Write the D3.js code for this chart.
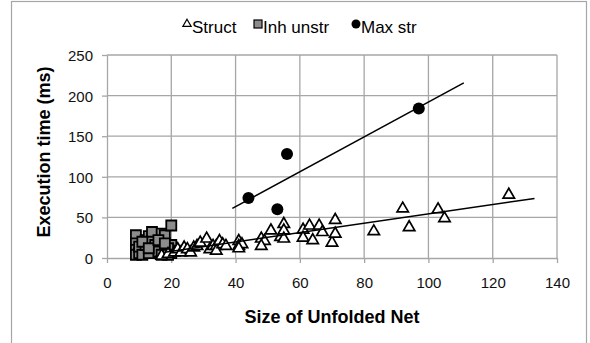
<!DOCTYPE html>
<html>
<head>
<meta charset="utf-8">
<script src="https://cdn.jsdelivr.net/npm/d3@7"></script>
<style>
  body { margin: 0; background: #fff; }
  svg { display: block; font-family: "Liberation Sans", Arial, sans-serif; }
</style>
</head>
<body>
<div id="chart"></div>
<script>
// series
const structX = [17, 19, 21, 22, 23, 24, 25, 26, 27, 28, 29, 31, 32, 33, 34, 34, 35, 36, 37, 41, 41, 42, 41, 48, 49, 48, 51, 54, 55, 55, 55, 61, 61, 63, 64, 66, 67, 70, 71, 71, 83, 92, 94, 103, 105, 125];
const structY = [4, 6, 8, 12, 8, 14, 12, 8, 14, 16, 20, 25, 12, 16, 16, 10, 22, 18, 16, 22, 16, 18, 13, 25, 22, 16, 35, 27, 43, 35, 25, 36, 26, 41, 23, 41, 33, 20, 31, 48, 34, 62, 39, 61, 50, 79];
const inhX = [9, 9, 9, 9, 10, 12, 12, 13, 14, 14, 15, 16, 17, 18, 18, 20, 20, 20, 10, 11, 12, 13, 14, 15, 16, 17, 19, 11, 13, 16, 18, 19];
const inhY = [28, 18, 10, 4, 6, 10, 22, 27, 32, 12, 6, 14, 30, 10, 28, 40, 16, 6, 14, 4, 16, 6, 20, 16, 8, 4, 12, 20, 12, 22, 18, 4];
const maxX = [44, 53, 56, 97];
const maxY = [74, 60, 128, 184];

// trendline extents (data units, includes forecast)
const structTrendX = [18, 133];
const maxTrendX = [39, 111];

const xTicks = [0, 20, 40, 60, 80, 100, 120, 140];
const yTicks = [0, 50, 100, 150, 200, 250];
const legendNames = ['Struct', 'Inh unstr', 'Max str'];

const width = 590, height = 343;
const plot = { left: 107, right: 557, top: 55, bottom: 258 };

const svg = d3.select('#chart').append('svg')
    .attr('width', width)
    .attr('height', height);

// outer chart border
svg.append('rect')
    .attr('x', 11.5).attr('y', 1.5)
    .attr('width', 575).attr('height', 360)
    .attr('fill', 'none')
    .attr('stroke', '#a6a6a6')
    .attr('stroke-width', 1.2);

const x = d3.scaleLinear().domain([0, 140]).range([plot.left, plot.right]);
const y = d3.scaleLinear().domain([0, 250]).range([plot.bottom, plot.top]);

const grid = svg.append('g').attr('stroke', '#a6a6a6').attr('stroke-width', 1.3);
grid.selectAll('.gx').data(xTicks.slice(1)).join('line')
    .attr('x1', d => x(d)).attr('x2', d => x(d))
    .attr('y1', plot.top).attr('y2', plot.bottom);
grid.selectAll('.gy').data(yTicks.slice(1)).join('line')
    .attr('x1', plot.left).attr('x2', plot.right)
    .attr('y1', d => y(d)).attr('y2', d => y(d));

const xAxis = svg.append('g')
    .attr('transform', `translate(0,${plot.bottom})`)
    .call(d3.axisBottom(x).tickValues(xTicks).tickSize(5).tickSizeOuter(0));
const yAxis = svg.append('g')
    .attr('transform', `translate(${plot.left},0)`)
    .call(d3.axisLeft(y).tickValues(yTicks).tickSize(5).tickSizeOuter(0));

[xAxis, yAxis].forEach(a => {
    a.select('.domain').attr('stroke', '#a6a6a6').attr('stroke-width', 1.3);
    a.selectAll('.tick line').attr('stroke', '#a6a6a6').attr('stroke-width', 1.3);
    a.selectAll('text')
        .attr('fill', '#111')
        .style('font-size', '15px')
        .style('font-family', '"Liberation Sans", Arial, sans-serif');
});
xAxis.selectAll('text').attr('dy', null).attr('y', 30);
yAxis.selectAll('text').attr('x', -14).attr('dy', '0.36em');

// axis titles
svg.append('text')
    .attr('x', 332).attr('y', 323)
    .attr('text-anchor', 'middle')
    .style('font-size', '18px').style('font-weight', 'bold')
    .text('Size of Unfolded Net');
svg.append('text')
    .attr('transform', 'translate(50,152) rotate(-90)')
    .attr('text-anchor', 'middle')
    .style('font-size', '18px').style('font-weight', 'bold')
    .text('Execution time (ms)');

const triangle = d3.symbol().type(d3.symbolTriangle).size(56);
const square = d3.symbol().type(d3.symbolSquare).size(100);

// Inh unstr squares
svg.append('g').selectAll('path')
    .data(d3.zip(inhX, inhY)).join('path')
    .attr('d', square)
    .attr('transform', d => `translate(${x(d[0])},${y(d[1])})`)
    .attr('fill', '#8c8c8c')
    .attr('stroke', '#000')
    .attr('stroke-width', 1.8);

// Struct triangles
svg.append('g').selectAll('path')
    .data(d3.zip(structX, structY)).join('path')
    .attr('d', triangle)
    .attr('transform', d => `translate(${x(d[0])},${y(d[1]) + 1})`)
    .attr('fill', '#fff')
    .attr('stroke', '#000')
    .attr('stroke-width', 1.7);

// Max str circles
svg.append('g').selectAll('circle')
    .data(d3.zip(maxX, maxY)).join('circle')
    .attr('cx', d => x(d[0])).attr('cy', d => y(d[1]))
    .attr('r', 6)
    .attr('fill', '#000');

// linear trendlines
function fit(xs, ys) {
    const mx = d3.mean(xs), my = d3.mean(ys);
    const sxy = d3.sum(xs, (v, i) => (v - mx) * (ys[i] - my));
    const sxx = d3.sum(xs, v => (v - mx) * (v - mx));
    const b = sxy / sxx;
    return v => my + b * (v - mx);
}
[[structX, structY, structTrendX], [maxX, maxY, maxTrendX]].forEach(([xs, ys, ext]) => {
    const f = fit(xs, ys);
    svg.append('line')
        .attr('x1', x(ext[0])).attr('y1', y(f(ext[0])))
        .attr('x2', x(ext[1])).attr('y2', y(f(ext[1])))
        .attr('stroke', '#000')
        .attr('stroke-width', 1.5);
});

// legend
const legend = svg.append('g').style('font-size', '17px');
const legendPos = [187, 258, 356];
const legendMarks = [
    g => g.append('path').attr('d', d3.symbol().type(d3.symbolTriangle).size(30))
        .attr('fill', '#fff').attr('stroke', '#000').attr('stroke-width', 1.2),
    g => g.append('rect').attr('x', -4).attr('y', -4).attr('width', 8).attr('height', 8)
        .attr('fill', '#8c8c8c').attr('stroke', '#000').attr('stroke-width', 1.2),
    g => g.append('circle').attr('r', 4.5).attr('fill', '#000')
];
legendNames.forEach((name, i) => {
    const g = legend.append('g').attr('transform', `translate(${legendPos[i]},24)`);
    legendMarks[i](g);
    g.append('text').attr('x', 5).attr('y', 9).text(name);
});
</script>
</body>
</html>
